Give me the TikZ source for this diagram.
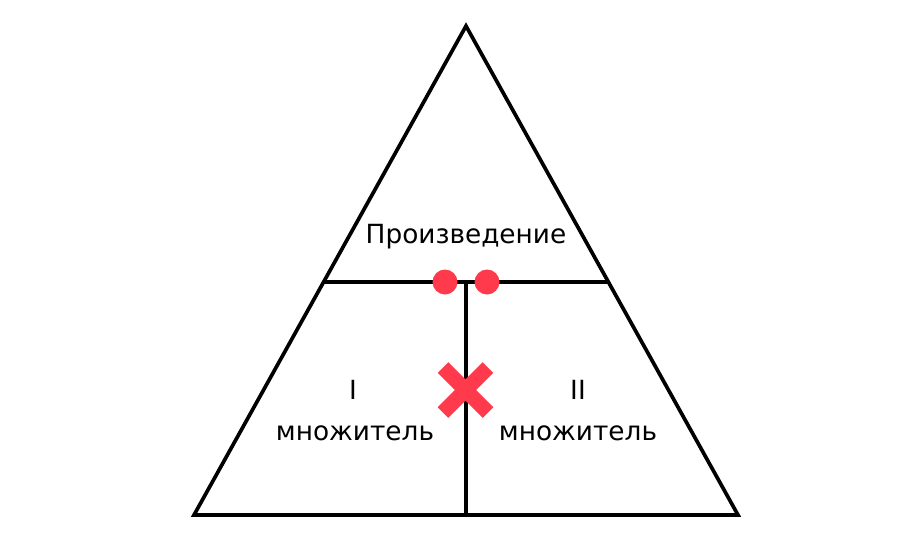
\documentclass[tikz,border=0pt]{standalone}
\usepackage{fontspec}
\setmainfont{DejaVu Sans}
\usetikzlibrary{calc}
\definecolor{signred}{HTML}{FF3A4C}
\tikzset{
  edge/.style={line width=2.1pt,color=black},
  lbl/.style={font=\fontsize{15}{18}\selectfont,inner sep=0pt},
}
\begin{document}
\begin{tikzpicture}[x=0.02cm,y=-0.02cm]
\useasboundingbox (0,0) rectangle (900,548);
\coordinate (top) at (466,26);
\coordinate (bl) at (194,515);
\coordinate (br) at (738,515);
\coordinate (ml) at ($(top)!0.5235!(bl)$);
\coordinate (mr) at ($(top)!0.5235!(br)$);
\coordinate (mc) at (466,282);
\coordinate (bc) at (466,515);
\draw [edge,line join=miter] (top) -- (bl) -- (br) -- cycle;
\draw [edge] (ml) -- (mr);
\draw [edge] (mc) -- (bc);
\node [lbl] (prod) at (466,237) {Произведение};
\node [lbl] (one) at (353,390) {I};
\node [lbl] (onem) at (355,433) {множитель};
\node [lbl] (two) at (578,390) {II};
\node [lbl] (twom) at (578,433) {множитель};
\fill [signred] (445,282) circle (12.5);
\fill [signred] (487,282) circle (12.5);
\draw [line width=8.5pt,color=signred] (443,367.5) -- (488,412.5);
\draw [line width=8.5pt,color=signred] (488,367.5) -- (443,412.5);
\end{tikzpicture}
\end{document}
